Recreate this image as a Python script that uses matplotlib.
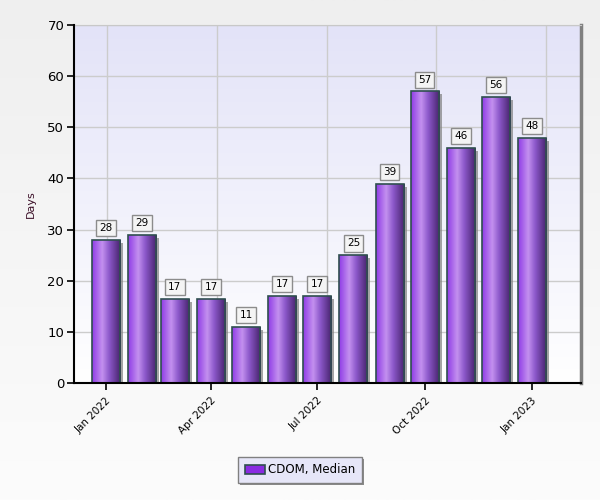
import numpy as np
import pandas as pd
import matplotlib
matplotlib.use("Agg")
import matplotlib.pyplot as plt
import matplotlib.dates as mdates
import matplotlib.transforms as mtransforms
from matplotlib.colors import LinearSegmentedColormap
from matplotlib.patches import Rectangle, Patch

# Data
months = ["2022-01", "2022-02", "2022-03", "2022-04", "2022-05", "2022-06", "2022-07",
          "2022-08", "2022-09", "2022-10", "2022-11", "2022-12", "2023-01"]
median_days = [28, 29, 16.5, 16.5, 11, 17, 17, 25, 39, 57, 46, 56, 48]
value_labels = ["28", "29", "17", "17", "11", "17", "17", "25", "39", "57", "46", "56", "48"]
tick_dates = ["2022-01-01", "2022-04-01", "2022-07-01", "2022-10-01", "2023-01-01"]
tick_labels = ["Jan 2022", "Apr 2022", "Jul 2022", "Oct 2022", "Jan 2023"]
series_name = "CDOM, Median"

x = mdates.date2num(pd.to_datetime(months))
bar_w = 24  # days

fig = plt.figure(figsize=(6, 5), dpi=100)

# figure background gradient
bg = fig.add_axes([0, 0, 1, 1], zorder=-10)
bg.imshow(np.linspace(0, 1, 256).reshape(-1, 1), aspect="auto", extent=[0, 1, 0, 1],
          cmap=LinearSegmentedColormap.from_list("fbg", ["#EFEFEF", "#FCFCFC"]))
bg.axis("off")

ax = fig.add_axes([74 / 600, 1 - 383 / 500, 507 / 600, 358 / 500])
x0 = mdates.date2num(pd.Timestamp("2021-12-04 14:00"))
x1 = mdates.date2num(pd.Timestamp("2023-02-12"))
y0, y1 = 0, 70

# plot area gradient (lavender to white)
ax.imshow(np.linspace(0, 1, 256).reshape(-1, 1), aspect="auto", extent=[x0, x1, y0, y1],
          cmap=LinearSegmentedColormap.from_list("abg", ["#E3E3F8", "#FFFFFF"]), zorder=0)

bar_cmap = LinearSegmentedColormap.from_list(
    "bar", [(0, "#8F3BE6"), (0.35, "#C390EF"), (0.6, "#8C58CA"), (1, "#45226A")])
grad = np.linspace(0, 1, 128).reshape(1, -1)
shadow_tr = mtransforms.offset_copy(ax.transData, fig=fig, x=3, y=-3, units="dots")

for xi, v, lab in zip(x, median_days, value_labels):
    left = xi - bar_w / 2
    ax.add_patch(Rectangle((left, 0), bar_w, v, transform=shadow_tr,
                           facecolor="#7F7F7F", edgecolor="none", alpha=0.7, zorder=2))
    im = ax.imshow(grad, aspect="auto", extent=[left, left + bar_w, 0, v], cmap=bar_cmap, zorder=3)
    edge = Rectangle((left, 0), bar_w, v, facecolor="none", edgecolor="#2F4F4F", lw=1.2, zorder=4)
    ax.add_patch(edge)
    im.set_clip_path(edge)
    ax.text(xi, v + 2.3, lab, ha="center", va="center", fontsize=7.5, color="black", zorder=5,
            bbox=dict(boxstyle="square,pad=0.3", fc="#F4F4F4", ec="#8C8C8C", lw=1))

ax.set_xlim(x0, x1)
ax.set_ylim(y0, y1)
ax.set_yticks(range(0, 71, 10))
ax.set_xticks(mdates.date2num(pd.to_datetime(tick_dates)))
ax.set_xticklabels(tick_labels, rotation=45, ha="right", rotation_mode="anchor", fontsize=7.5)
ax.tick_params(axis="y", labelsize=9.5, length=5, width=1.2, direction="out", pad=2)
ax.tick_params(axis="x", length=5, width=1.2, direction="out", pad=4)

# grid
grid_days = [1, 95, 189, 283, 377]
for d in grid_days:
    ax.axvline(mdates.date2num(pd.Timestamp("2022-01-01")) + d, color="#CCCCCC", lw=1, zorder=1)
for yv in range(10, 71, 10):
    ax.axhline(yv, color="#CCCCCC", lw=1, zorder=1)

for s in ["left", "bottom"]:
    ax.spines[s].set_color("black")
    ax.spines[s].set_linewidth(1.5)
    ax.spines[s].set_zorder(6)
ax.spines["top"].set_color("#C8C8C8")
ax.spines["right"].set_color("#808080")
ax.spines["right"].set_linewidth(2.5)

ax.set_ylabel("Days", fontsize=8, color="#3C1028", labelpad=8)

leg = fig.legend(handles=[Patch(facecolor="#8A2BE2", edgecolor="#2F4F4F", lw=1.2, label=series_name)],
                 loc="center", bbox_to_anchor=(0.5, 1 - 470 / 500), fontsize=8.5,
                 frameon=True, fancybox=False,
                 shadow={"ox": 1.5, "oy": -1.5, "facecolor": "#8A8A8A", "edgecolor": "none", "alpha": 1},
                 handlelength=1.7, handleheight=0.8,
                 borderpad=0.55, handletextpad=0.3, borderaxespad=0)
leg.get_frame().set_facecolor("#E6E6F8")
leg.get_frame().set_edgecolor("#808080")

fig.savefig("out.png", dpi=100)
